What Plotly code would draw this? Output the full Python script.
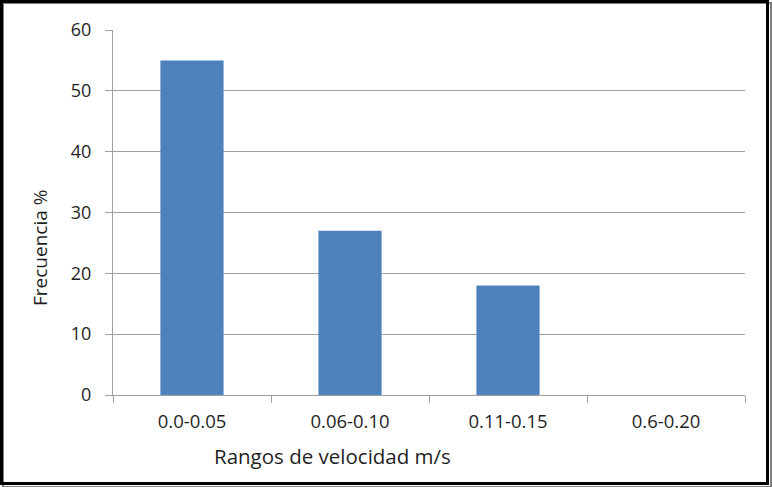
import plotly.graph_objects as go

categories = ["0.0-0.05", "0.06-0.10", "0.11-0.15", "0.6-0.20"]
frecuencia = [55, 27, 18, 0]
y_ticks = [0, 10, 20, 30, 40, 50, 60]
x_title = "Rangos de velocidad m/s"
y_title = "Frecuencia %"

W, H = 772, 487
ml, mr, mt, mb = 113, 27, 30, 92
pw, ph = W - ml - mr, H - mt - mb

def px(x):
    return (x - ml) / pw

def py(y):
    return (H - mb - y) / ph

fig = go.Figure(go.Bar(
    x=categories, y=frecuencia,
    marker=dict(color="#4F81BD", line=dict(width=0)),
    width=0.4,
))

fig.update_layout(
    width=W, height=H, autosize=False,
    margin=dict(l=ml, r=mr, t=mt, b=mb),
    plot_bgcolor="white", paper_bgcolor="white",
    font=dict(family="Open Sans, Liberation Sans, sans-serif", size=18, color="#1F1F1F"),
    showlegend=False,
    xaxis=dict(
        type="category", tickson="boundaries", ticks="outside", ticklen=7,
        tickcolor="#A0A0A0", showline=True, linecolor="#A0A0A0", linewidth=1,
        showgrid=False, tickfont=dict(size=18.5), ticklabelstandoff=10,
        automargin=False,
    ),
    yaxis=dict(
        range=[0, 60], tickvals=y_ticks, ticks="outside", ticklen=7,
        tickcolor="#A0A0A0", showline=True, linecolor="#A0A0A0", linewidth=1,
        showgrid=True, gridcolor="#A0A0A0", gridwidth=1, zeroline=False,
        tickfont=dict(size=18), ticklabelstandoff=10, automargin=False,
    ),
    annotations=[
        dict(text=x_title, xref="paper", yref="paper", x=px(332), y=py(456),
             xanchor="center", yanchor="middle", showarrow=False,
             font=dict(size=20.5)),
        dict(text=y_title, xref="paper", yref="paper", x=px(40), y=py(248),
             xanchor="center", yanchor="middle", showarrow=False, textangle=-90,
             font=dict(size=19)),
    ],
    shapes=[
        dict(type="rect", xref="paper", yref="paper",
             x0=px(3), x1=px(771), y0=py(487), y1=py(3),
             line=dict(color="#7F7F7F", width=2), layer="below"),
        dict(type="rect", xref="paper", yref="paper",
             x0=px(1.5), x1=px(767.5), y0=py(483.5), y1=py(1.5),
             line=dict(color="#000000", width=3), layer="below"),
    ],
)

fig.write_html("out.html", config={"displayModeBar": False},
               post_script="document.body.style.margin='0';document.body.style.overflow='hidden';")
